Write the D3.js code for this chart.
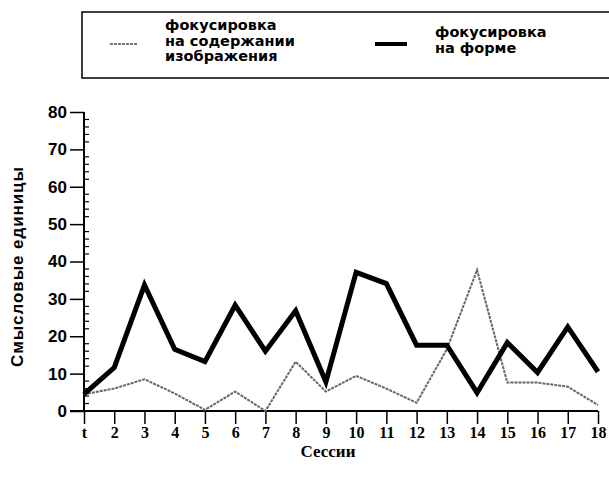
<!DOCTYPE html>
<html>
<head>
<meta charset="utf-8">
<script src="https://cdn.jsdelivr.net/npm/d3@7"></script>
<style>
	body { margin: 0; background: #fff; }
	svg { display: block; }
</style>
</head>
<body>
<script>
// sessions 1..18
var sessions = [1, 2, 3, 4, 5, 6, 7, 8, 9, 10, 11, 12, 13, 14, 15, 16, 17, 18];
// focus on image content (thin grey line)
var contentValues = [4.5, 6, 8.5, 4.7, 0.3, 5.2, 0, 13.2, 5.2, 9.4, 6, 2.2, 16.5, 37.7, 7.6, 7.6, 6.5, 1.6];
// focus on form (thick line)
var formValues = [4.5, 11.6, 33.7, 16.5, 13.2, 28.3, 16, 26.8, 7.8, 37.1, 34.1, 17.6, 17.6, 4.9, 18.3, 10.3, 22.5, 10.5];
var yTicks = [0, 10, 20, 30, 40, 50, 60, 70, 80];
var xTickLabels = ['t', '2', '3', '4', '5', '6', '7', '8', '9', '10', '11', '12', '13', '14', '15', '16', '17', '18'];
var legendContent = ['фокусировка', 'на содержании', 'изображения'];
var legendForm = ['фокусировка', 'на форме'];

var width = 609, height = 482;
var svg = d3.select('body').append('svg')
	.attr('width', width)
	.attr('height', height);

var x = d3.scaleLinear().domain([1, 18]).range([84, 598]);
var y = d3.scaleLinear().domain([0, 80]).range([411, 112]);

var legFont = 'DejaVu Sans, sans-serif';
var tickFont = 'Liberation Sans, sans-serif';

// legend box
svg.append('rect')
	.attr('x', 82).attr('y', 12)
	.attr('width', 540).attr('height', 66)
	.attr('fill', 'none').attr('stroke', '#000').attr('stroke-width', 1.5);

svg.append('line')
	.attr('x1', 110).attr('x2', 138).attr('y1', 44).attr('y2', 44)
	.attr('stroke', '#777').attr('stroke-width', 2).attr('stroke-dasharray', '3,1');
svg.append('text')
	.attr('font-family', legFont).attr('font-weight', 'bold').attr('font-size', 14.5)
	.selectAll('tspan').data(legendContent).enter().append('tspan')
	.attr('x', 165).attr('y', function(d, i) { return 30 + i * 15.5; })
	.text(function(d) { return d; });

svg.append('line')
	.attr('x1', 375).attr('x2', 407).attr('y1', 44).attr('y2', 44)
	.attr('stroke', '#000').attr('stroke-width', 4);
svg.append('text')
	.attr('font-family', legFont).attr('font-weight', 'bold').attr('font-size', 14.5)
	.selectAll('tspan').data(legendForm).enter().append('tspan')
	.attr('x', 435).attr('y', function(d, i) { return 37 + i * 15.5; })
	.text(function(d) { return d; });

// y axis
var yAxis = d3.axisLeft(y).tickValues(yTicks).tickSize(14).tickPadding(3);
var gy = svg.append('g').attr('transform', 'translate(84,0)').call(yAxis);
gy.select('.domain').attr('stroke-width', 2).attr('d', 'M0,' + y(0) + 'V' + y(80));
gy.selectAll('.tick line').attr('stroke-width', 1.5);
gy.selectAll('.tick text')
	.attr('font-family', tickFont).attr('font-weight', 'bold').attr('font-size', 17)
	.attr('fill', '#000');

// minor ticks on the right side of the y axis
var minor = d3.range(0, 81, 2);
svg.append('g').selectAll('line').data(minor).enter().append('line')
	.attr('x1', 84).attr('x2', function(d) { return d % 10 === 0 ? 84 : 89; })
	.attr('y1', function(d) { return y(d); }).attr('y2', function(d) { return y(d); })
	.attr('stroke', '#000').attr('stroke-width', 1.2);

// x axis
var xAxis = d3.axisBottom(x).tickValues(sessions).tickSize(13).tickPadding(3)
	.tickFormat(function(d, i) { return xTickLabels[i]; });
var gx = svg.append('g').attr('transform', 'translate(0,' + y(0) + ')').call(xAxis);
gx.select('.domain').attr('stroke-width', 2).attr('d', 'M' + (x(1) - 14) + ',0H' + x(18));
gx.selectAll('.tick line').attr('stroke-width', 1.5);
gx.selectAll('.tick text')
	.attr('font-family', 'Liberation Serif, serif').attr('font-weight', 'bold').attr('font-size', 16)
	.attr('fill', '#000');

// axis titles
svg.append('text')
	.attr('x', 328).attr('y', 457)
	.attr('text-anchor', 'middle')
	.attr('font-family', 'Liberation Serif, serif').attr('font-weight', 'bold').attr('font-size', 17)
	.text('Сессии');
svg.append('text')
	.attr('transform', 'translate(23,267) rotate(-90)')
	.attr('text-anchor', 'middle')
	.attr('font-family', 'Liberation Sans, sans-serif').attr('font-weight', 'bold').attr('font-size', 17)
	.attr('textLength', 200)
	.text('Смысловые единицы');

// lines
var line = d3.line()
	.x(function(d, i) { return x(sessions[i]); })
	.y(function(d) { return y(d); });

svg.append('path').datum(contentValues)
	.attr('d', line)
	.attr('fill', 'none').attr('stroke', '#666').attr('stroke-width', 2)
	.attr('stroke-dasharray', '3,1').attr('stroke-linejoin', 'miter');

svg.append('path').datum(formValues)
	.attr('d', line)
	.attr('fill', 'none').attr('stroke', '#000').attr('stroke-width', 5)
	.attr('stroke-linejoin', 'miter');
</script>
</body>
</html>
